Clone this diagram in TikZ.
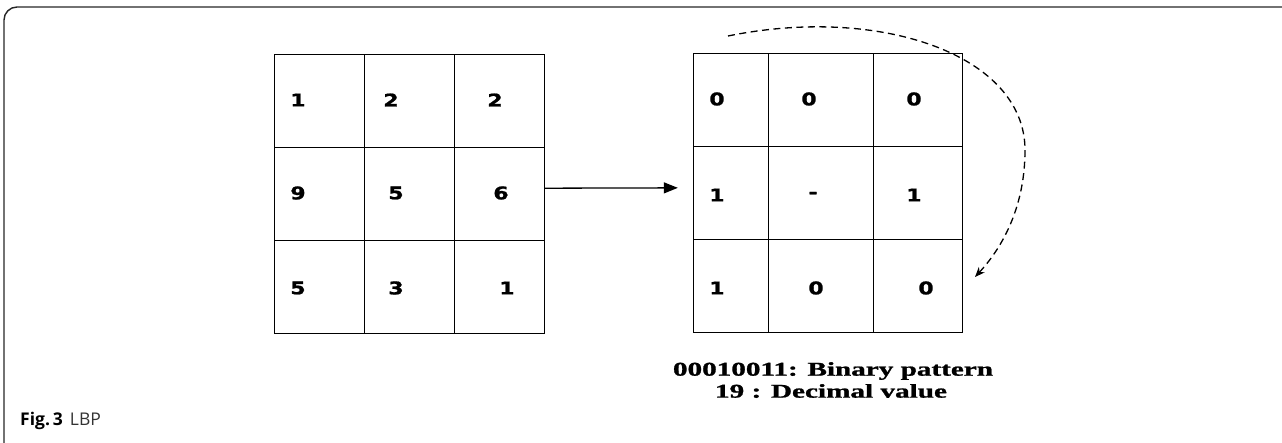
\documentclass[tikz,border=0pt]{standalone}
\usepackage{fontspec}
\setmainfont{Liberation Serif}[BoldFeatures={FakeBold=1}]
\newfontfamily\cellfont{DejaVu Sans}[BoldFeatures={FakeBold=1.2}]
\newfontfamily\capfont{Open Sans}
\usetikzlibrary{arrows.meta}

\tikzset{
  frame/.style={line width=1.4pt, black!85, rounded corners=13pt},
  cell/.style={draw=black, line width=1pt, rectangle, inner sep=0pt},
  val/.style={inner sep=0pt, font=\cellfont\bfseries\fontsize{17.5}{20}\selectfont, xscale=1.25, transform shape},
  flow/.style={line width=1.3pt, -{Triangle[length=14pt, width=11pt]}},
  order/.style={line width=1.3pt, dash pattern=on 7pt off 4.5pt, -{Stealth[length=10pt, width=8pt]}},
  result/.style={inner sep=0pt, font=\bfseries\fontsize{19.5}{22}\selectfont},
}

\begin{document}
\begin{tikzpicture}[x=1pt, y=-1pt]
\useasboundingbox (0,0) rectangle (1282,443);

% open frame round the figure
\draw[frame] (4,446) -- (4,7) -- (1286,7);

% input 3x3 neighbourhood
\foreach \c/\x in {1/319.8, 2/409.6, 3/499.4}{
  \foreach \r/\y in {1/100.6, 2/193.7, 3/286.8}{
    \node[cell, minimum width=89.8pt, minimum height=93.1pt] (l\r\c) at (\x,\y) {};
  }
}
\node[val] (a11) at (298,100) {1};
\node[val] (a12) at (391,100) {2};
\node[val] (a13) at (495,100) {2};
\node[val] (a21) at (298,193) {9};
\node[val] (a22) at (396,193) {5};
\node[val] (a23) at (501,193) {6};
\node[val] (a31) at (298,288) {5};
\node[val] (a32) at (396,288) {3};
\node[val] (a33) at (507,288) {1};

% thresholded 3x3 neighbourhood
\foreach \c/\x/\w in {1/730.8/75, 2/820.8/105, 3/918/89.4}{
  \foreach \r/\y/\h in {1/100.1/93.2, 2/193.35/93.3, 3/286.5/93}{
    \node[cell, minimum width=\w pt, minimum height=\h pt] (r\r\c) at (\x,\y) {};
  }
}
\node[val] (b11) at (717,99) {0};
\node[val] (b12) at (809,99) {0};
\node[val] (b13) at (914,99) {0};
\node[val] (b21) at (717,195) {1};
\node[val] (b22) at (813,195) {-};
\node[val] (b23) at (914,195) {1};
\node[val] (b31) at (717,288) {1};
\node[val] (b32) at (816,288) {0};
\node[val] (b33) at (926,288) {0};

% thresholding step
\draw[flow] ([yshift=5.5pt]l23.east) -- ([yshift=5.5pt, xshift=-15pt]r21.west);

% reading order of the bits
\coordinate (rs) at (728,36);
\coordinate (re) at (975,277);
\draw[order] (rs) .. controls (880,5) and (1025,55) .. (1025,150)
                  .. controls (1025,210) and (1000,250) .. (re);

% resulting code
\node[result] (bin) at (833,371) {\resizebox{320pt}{\height}{00010011: Binary pattern}};
\node[result] (dec) at (831,391) {\resizebox{232pt}{\height}{19 : Decimal value}};

% caption
\node[anchor=base west, inner sep=0pt, font=\capfont\fontsize{17.5}{20}\selectfont] (cap) at (20,425)
  {\textbf{Fig.\,3}\hspace{7pt}\textcolor{black!80}{LBP}};
\end{tikzpicture}
\end{document}
